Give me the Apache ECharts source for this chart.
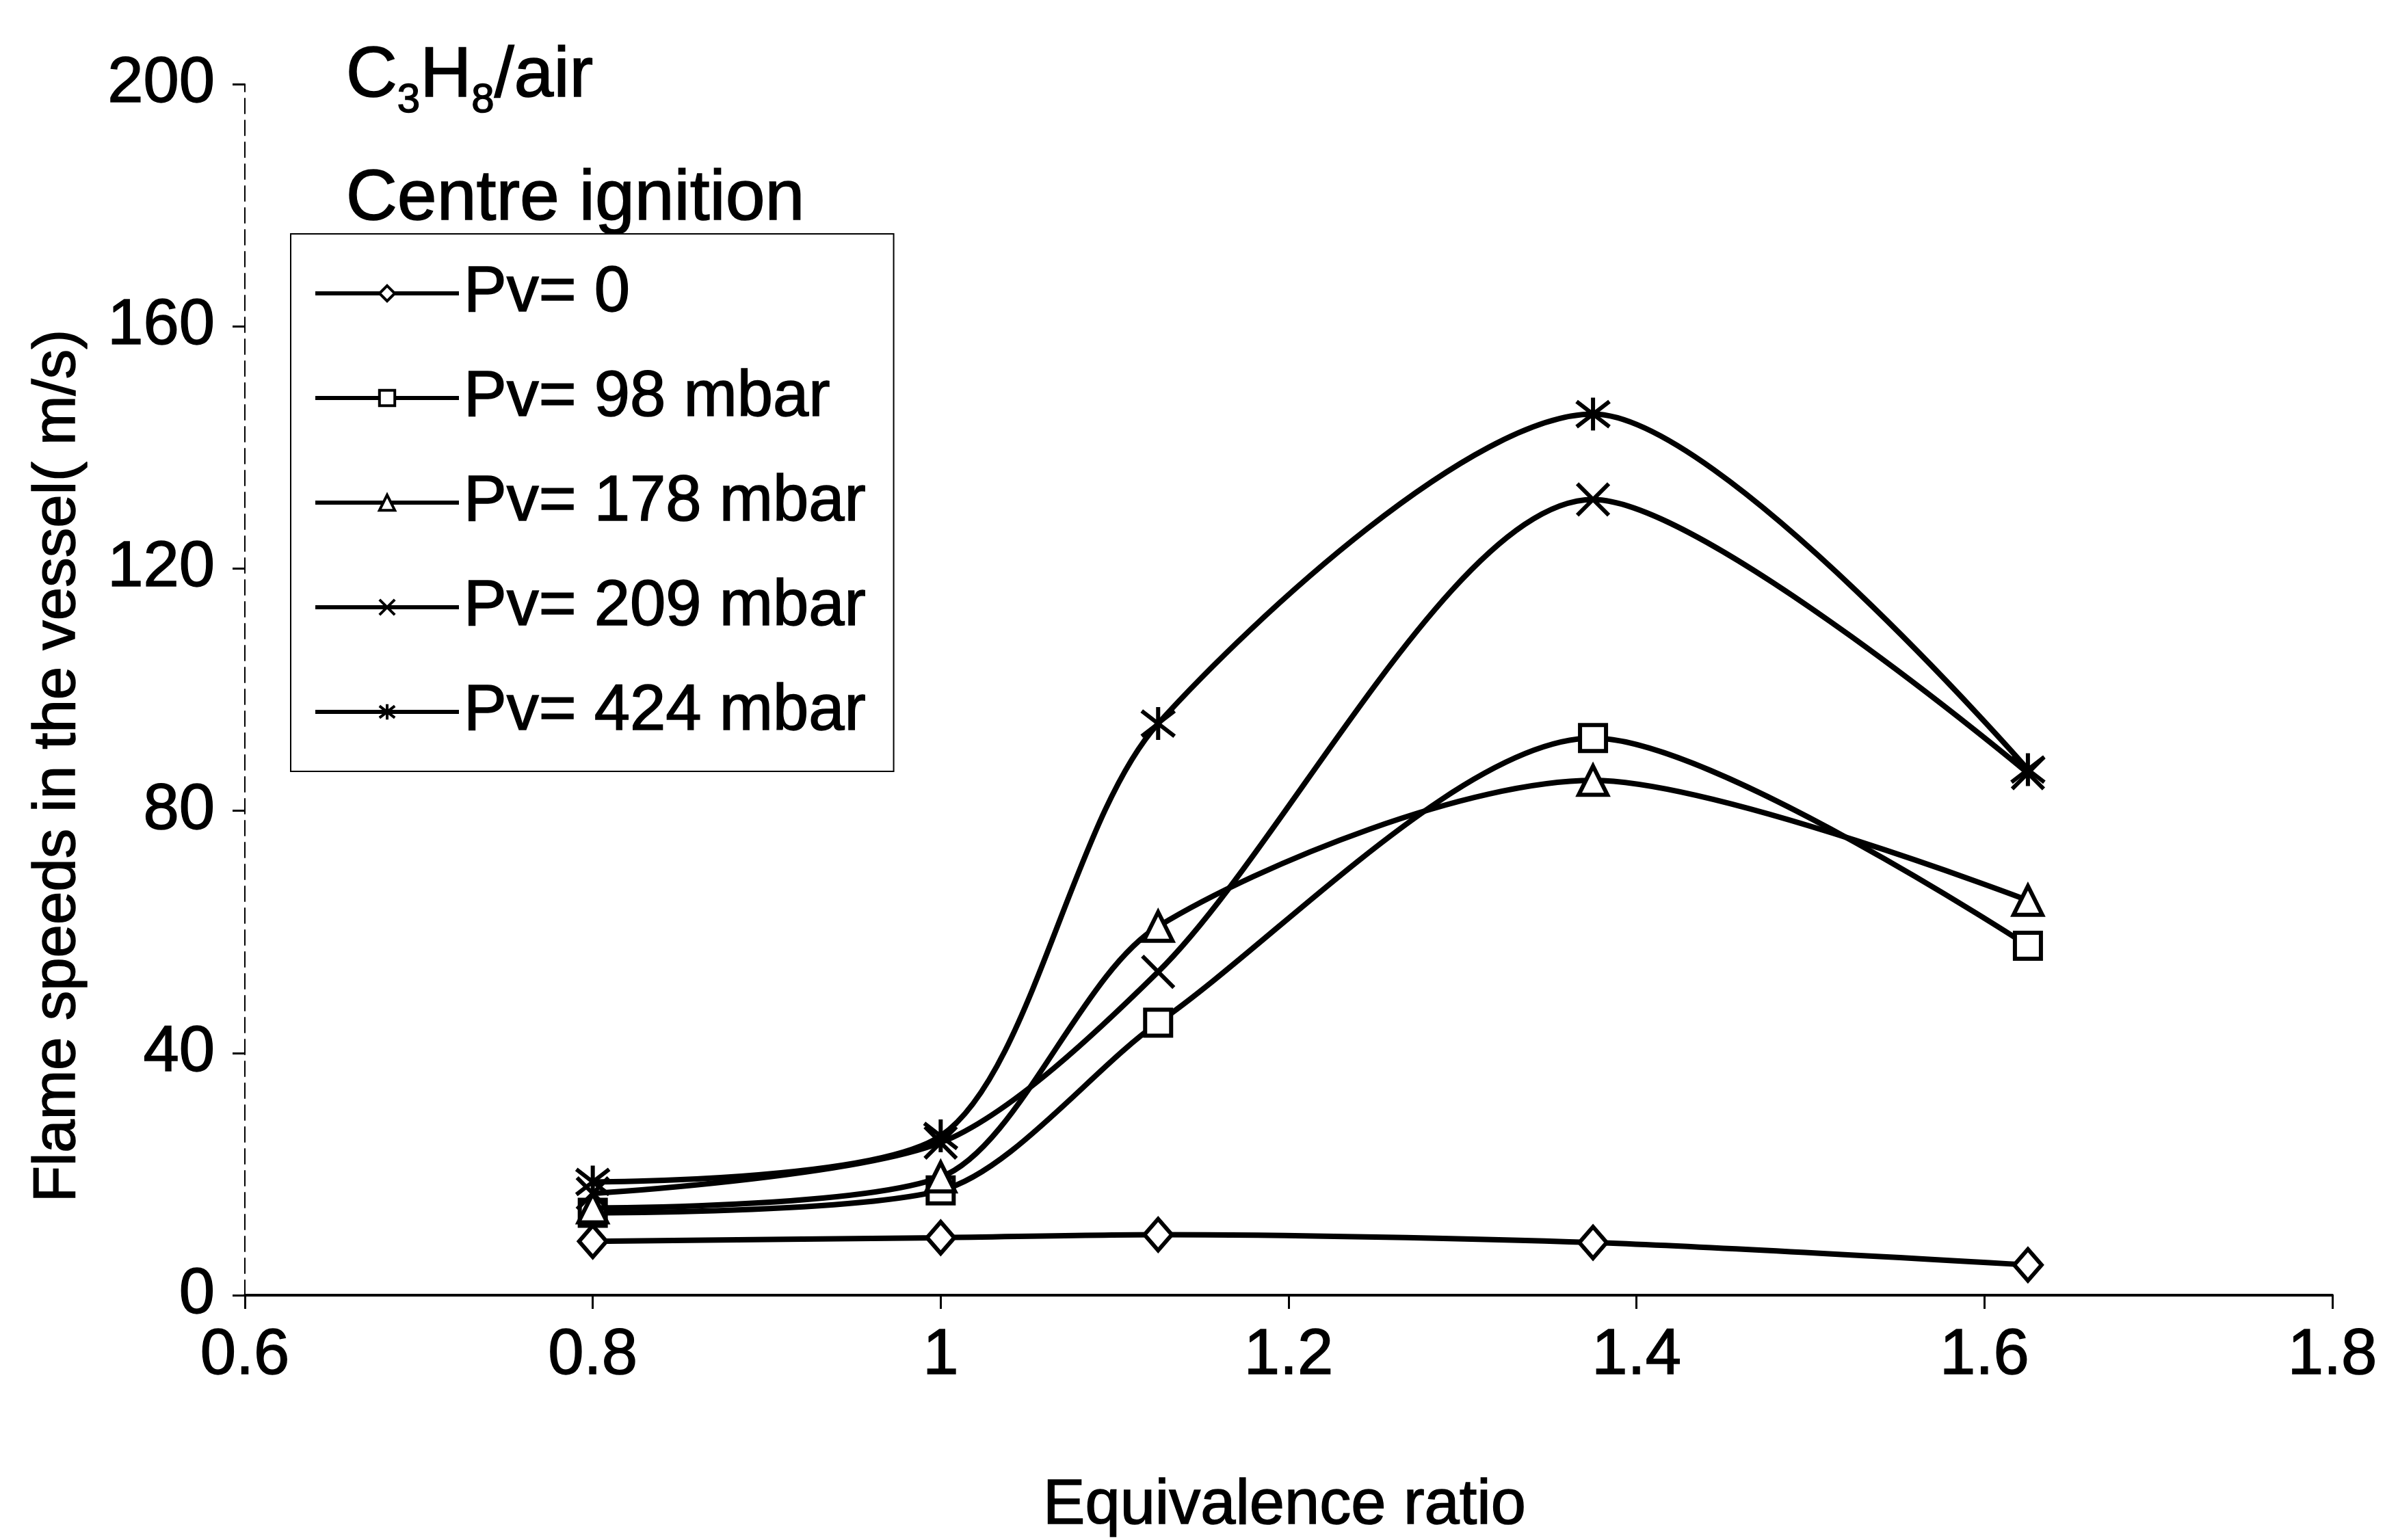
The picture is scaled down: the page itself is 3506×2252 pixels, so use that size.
<!DOCTYPE html>
<html>
<head>
<meta charset="utf-8">
<title>Flame speeds in the vessel</title>
<script src="https://cdn.jsdelivr.net/npm/echarts@6/dist/echarts.min.js"></script>
<style>
  html, body { margin: 0; padding: 0; background: #fff; }
  #chart { width: 3506px; height: 2252px; }
</style>
</head>
<body>
<div id="chart"></div>
<script>
// Equivalence ratio of each test mixture
const equivalenceRatio = [0.8, 1.0, 1.125, 1.375, 1.625];

// Flame speeds (m/s) for each vent static burst pressure
const speedPv0 = [8.9, 9.5, 10.0, 8.7, 5.0];
const speedPv98 = [13.6, 17.3, 45.0, 92.0, 57.7];
const speedPv178 = [14.4, 19.5, 60.9, 85.0, 65.2];
const speedPv209 = [16.8, 25.2, 53.4, 131.4, 86.2];
const speedPv424 = [18.7, 26.3, 94.4, 145.5, 86.8];

const seriesNames = ['Pv= 0', 'Pv= 98 mbar', 'Pv= 178 mbar', 'Pv= 209 mbar', 'Pv= 424 mbar'];

// Axis ranges
const xRange = { min: 0.6, max: 1.8, interval: 0.2 };
const yRange = { min: 0, max: 200, interval: 40 };

const FONT = "'Liberation Sans', Arial, Helvetica, sans-serif";
// slight outline to give the heavy print look of the labels
const INK = { textBorderColor: '#000', textBorderWidth: 1.5 };
const INK_G = { stroke: '#000', lineWidth: 1.5 };

// Marker shapes: hollow diamond, square, triangle, cross and asterisk
const markers = [
  'diamond',
  'rect',
  'triangle',
  'path://M0,0L10,10M10,0L0,10',
  'path://M0,0L10,10M10,0L0,10M5,-1.5L5,11.5'
];
const markerSizes = [[40, 46], 38, 42, 46, 48];

const seriesValues = [speedPv0, speedPv98, speedPv178, speedPv209, speedPv424];

function pairs(values) {
  return equivalenceRatio.map((x, i) => [x, values[i]]);
}

const series = seriesValues.map((vals, i) => ({
  name: seriesNames[i],
  type: 'line',
  data: pairs(vals),
  smooth: 0.28,
  symbol: markers[i],
  symbolSize: markerSizes[i],
  showAllSymbol: true,
  lineStyle: { color: '#000', width: 8 },
  itemStyle: { color: '#fff', borderColor: '#000', borderWidth: 6 },
  emphasis: { disabled: true },
  z: 2 + i
}));

const chart = echarts.init(document.getElementById('chart'), null, { renderer: 'canvas' });

chart.setOption({
  animation: false,
  backgroundColor: '#fff',
  textStyle: { fontFamily: FONT, color: '#000' },
  grid: { left: 358, right: 96, top: 123, bottom: 358, containLabel: false },
  xAxis: {
    type: 'value',
    min: xRange.min,
    max: xRange.max,
    interval: xRange.interval,
    axisLine: { onZero: false, lineStyle: { color: '#000', width: 4 } },
    axisTick: { show: true, inside: false, length: 20, lineStyle: { color: '#000', width: 3 } },
    axisLabel: Object.assign({ color: '#000', fontFamily: FONT, fontSize: 94, margin: 42 }, INK),
    splitLine: { show: false }
  },
  yAxis: {
    type: 'value',
    min: yRange.min,
    max: yRange.max,
    interval: yRange.interval,
    axisLine: { show: true, lineStyle: { color: '#000', width: 2, type: [22, 10] } },
    axisTick: { show: true, inside: false, length: 18, lineStyle: { color: '#000', width: 3 } },
    axisLabel: Object.assign({ color: '#000', fontFamily: FONT, fontSize: 94, margin: 44 }, INK),
    splitLine: { show: false }
  },
  legend: {
    data: seriesNames,
    orient: 'vertical',
    left: 425,
    top: 342,
    padding: [37, 40, 37, 33],
    itemGap: 53,
    itemWidth: 210,
    itemHeight: 28,
    borderColor: '#000',
    borderWidth: 2,
    backgroundColor: '#fff',
    selectedMode: false,
    itemStyle: { borderWidth: 4 },
    lineStyle: { width: 6 },
    textStyle: Object.assign({ fontFamily: FONT, fontSize: 94, color: '#000', lineHeight: 100, padding: [0, 0, 0, 2] }, INK)
  },
  graphic: [
    {
      type: 'text',
      left: 505,
      top: 60,
      style: Object.assign({
        text: '{m|C}{s|3}{m|H}{s|8}{m|/air}',
        fontFamily: FONT,
        fill: '#000',
        rich: {
          m: Object.assign({ fontFamily: FONT, fontSize: 104, fill: '#000' }, INK_G),
          s: Object.assign({ fontFamily: FONT, fontSize: 60, fill: '#000', padding: [70, 0, 0, 0] }, INK_G)
        }
      }, INK_G)
    },
    {
      type: 'text',
      left: 505,
      top: 240,
      style: Object.assign({ text: 'Centre ignition', fontFamily: FONT, fontSize: 104, fill: '#000' }, INK_G)
    },
    {
      type: 'text',
      x: 85,
      y: 1120,
      rotation: Math.PI / 2,
      style: Object.assign({
        text: 'Flame speeds in the vessel( m/s)',
        fontFamily: FONT,
        fontSize: 87,
        fill: '#000',
        align: 'center',
        verticalAlign: 'middle'
      }, INK_G)
    },
    {
      type: 'text',
      x: 1878,
      y: 2203,
      style: Object.assign({
        text: 'Equivalence ratio',
        fontFamily: FONT,
        fontSize: 92,
        fill: '#000',
        align: 'center',
        verticalAlign: 'middle'
      }, INK_G)
    }
  ],
  series: series
});
</script>
</body>
</html>
